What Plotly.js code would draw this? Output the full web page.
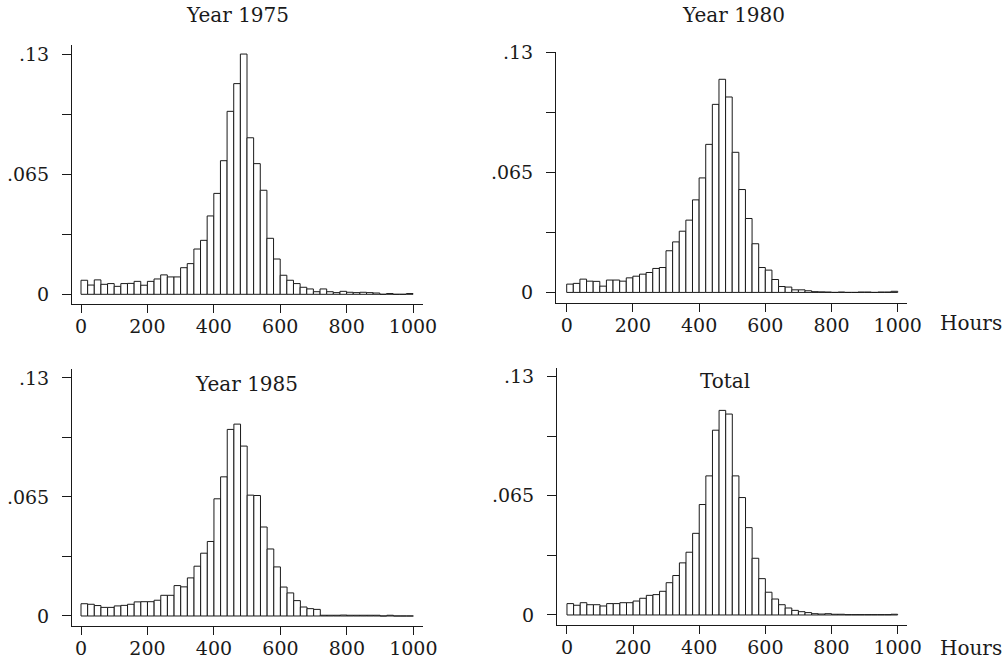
<!DOCTYPE html>
<html>
<head>
<meta charset="utf-8">
<script src="https://cdn.plot.ly/plotly-3.0.1.min.js"></script>
<style>html,body{margin:0;padding:0;background:#fff;}#chart{width:1003px;height:664px;}</style>
</head>
<body>
<div id="chart"></div>
<script>
// Bin centres (hours), bins of 20 hours from 0 to 1000
const hours = [10,30,50,70,90,110,130,150,170,190,210,230,250,270,290,310,330,350,370,390,
  410,430,450,470,490,510,530,550,570,590,610,630,650,670,690,710,730,750,770,790,
  810,830,850,870,890,910,930,950,970,990];

const y1975 = [0.0076,0.0050,0.0078,0.0054,0.0058,0.0043,0.0058,0.0059,0.0070,0.0049,
  0.0070,0.0083,0.0105,0.0094,0.0094,0.0144,0.0166,0.0245,0.0292,0.0424,
  0.0546,0.0723,0.0990,0.1140,0.1300,0.0847,0.0707,0.0563,0.0303,0.0191,
  0.0103,0.0076,0.0058,0.0038,0.0029,0.0014,0.0029,0.0014,0.0009,0.0016,
  0.0011,0.0009,0.0011,0.0009,0.0007,0,0.0004,0,0,0.0004];

const y1980 = [0.0045,0.0049,0.0072,0.0061,0.0060,0.0034,0.0067,0.0067,0.0061,0.0079,
  0.0088,0.0099,0.0108,0.0130,0.0135,0.0226,0.0274,0.0332,0.0392,0.0502,
  0.0621,0.0803,0.1020,0.1156,0.1060,0.0760,0.0558,0.0401,0.0264,0.0135,
  0.0121,0.0070,0.0032,0.0029,0.0014,0.0014,0.0009,0.0004,0.0003,0.0002,
  0,0.0002,0,0,0.0002,0.0002,0,0.0002,0.0002,0.0006];

const y1985 = [0.0067,0.0064,0.0057,0.0047,0.0047,0.0055,0.0058,0.0064,0.0077,0.0078,
  0.0078,0.0086,0.0113,0.0113,0.0166,0.0159,0.0208,0.0272,0.0343,0.0407,
  0.0640,0.0760,0.1019,0.1048,0.0928,0.0660,0.0658,0.0486,0.0366,0.0268,
  0.0158,0.0126,0.0084,0.0049,0.0040,0.0036,0.0004,0.0004,0.0004,0.0005,
  0.0004,0.0004,0.0004,0.0004,0.0004,0,0.0004,0,0,0];

const yTotal = [0.0062,0.0053,0.0067,0.0056,0.0056,0.0049,0.0062,0.0062,0.0067,0.0067,
  0.0076,0.0091,0.0107,0.0111,0.0129,0.0176,0.0215,0.0284,0.0342,0.0445,
  0.0602,0.0758,0.1007,0.1115,0.1095,0.0758,0.0640,0.0476,0.0309,0.0198,
  0.0124,0.0087,0.0056,0.0038,0.0025,0.0018,0.0013,0.0007,0.0005,0.0007,
  0.0004,0.0004,0.0002,0.0002,0.0002,0.0002,0.0002,0.0002,0.0002,0.0004];

const panelTitles = ["Year 1975", "Year 1980", "Year 1985", "Total"];
const xTickVals = [0, 200, 400, 600, 800, 1000];
const xTickText = ["0", "200", "400", "600", "800", "1000"];
const yTickVals = [0, 0.0325, 0.065, 0.0975, 0.13];
const yTickText = ["0", "", ".065", "", ".13"];
const xAxisLabel = "Hours";

const W = 1003, H = 664;
const FONT = "DejaVu Serif";
const INK = "#1a1a1a";
const FS = 19;

// panel geometry in pixels: [left, right, top, bottom], plus data ranges
const panels = [
  {l: 72,  r: 423, t: 45,  b: 304, xr: [-27.1, 1030.1], yr: [-0.00525, 0.1349]},
  {l: 556, r: 907, t: 52,  b: 303, xr: [-32.3, 1028.0], yr: [-0.00574, 0.1304]},
  {l: 72,  r: 423, t: 369, b: 626, xr: [-27.1, 1029.0], yr: [-0.00547, 0.1349]},
  {l: 557, r: 907, t: 368, b: 625, xr: [-30.2, 1028.4], yr: [-0.00546, 0.1346]}
];
const series = [y1975, y1980, y1985, yTotal];

const data = [];
const layout = {
  width: W, height: H,
  margin: {l: 0, r: 0, t: 0, b: 0, pad: 0},
  paper_bgcolor: "#fff", plot_bgcolor: "#fff",
  showlegend: false, bargap: 0,
  font: {family: FONT, size: FS, color: INK},
  annotations: []
};

panels.forEach((p, i) => {
  const n = i + 1;
  const xa = n === 1 ? "x" : "x" + n;
  const ya = n === 1 ? "y" : "y" + n;
  data.push({
    type: "bar", x: hours, y: series[i], width: 20,
    xaxis: xa, yaxis: ya,
    marker: {color: "#fff", line: {color: INK, width: 1}},
    hoverinfo: "x+y"
  });
  const axCommon = {
    showline: true, linecolor: INK, linewidth: 1,
    showgrid: false, zeroline: false,
    ticks: "outside", tickcolor: INK, tickwidth: 1,
    tickfont: {family: FONT, size: FS, color: INK}
  };
  layout["xaxis" + (n === 1 ? "" : n)] = Object.assign({}, axCommon, {
    domain: [p.l / W, p.r / W], range: p.xr, anchor: ya,
    tickmode: "array", tickvals: xTickVals, ticktext: xTickText, ticklen: 8,
    ticklabelstandoff: -3
  });
  layout["yaxis" + (n === 1 ? "" : n)] = Object.assign({}, axCommon, {
    domain: [1 - p.b / H, 1 - p.t / H], range: p.yr, anchor: xa,
    tickmode: "array", tickvals: yTickVals, ticktext: yTickText, ticklen: 9,
    ticklabelstandoff: 9
  });
});

// panel titles
const titlePos = [[237, 15], [733, 15], [246, 384], [725, 381]];
panelTitles.forEach((t, i) => {
  layout.annotations.push({
    text: t, xref: "paper", yref: "paper",
    x: titlePos[i][0] / W, y: 1 - titlePos[i][1] / H,
    xanchor: "center", yanchor: "middle", showarrow: false,
    font: {family: FONT, size: 20, color: INK}
  });
});
// "Hours" axis labels on the right-hand panels
[[971, 323], [971, 648]].forEach(pos => {
  layout.annotations.push({
    text: xAxisLabel, xref: "paper", yref: "paper",
    x: pos[0] / W, y: 1 - pos[1] / H,
    xanchor: "center", yanchor: "middle", showarrow: false,
    font: {family: FONT, size: 20, color: INK}
  });
});

Plotly.newPlot("chart", data, layout, {staticPlot: true});
</script>
</body>
</html>
